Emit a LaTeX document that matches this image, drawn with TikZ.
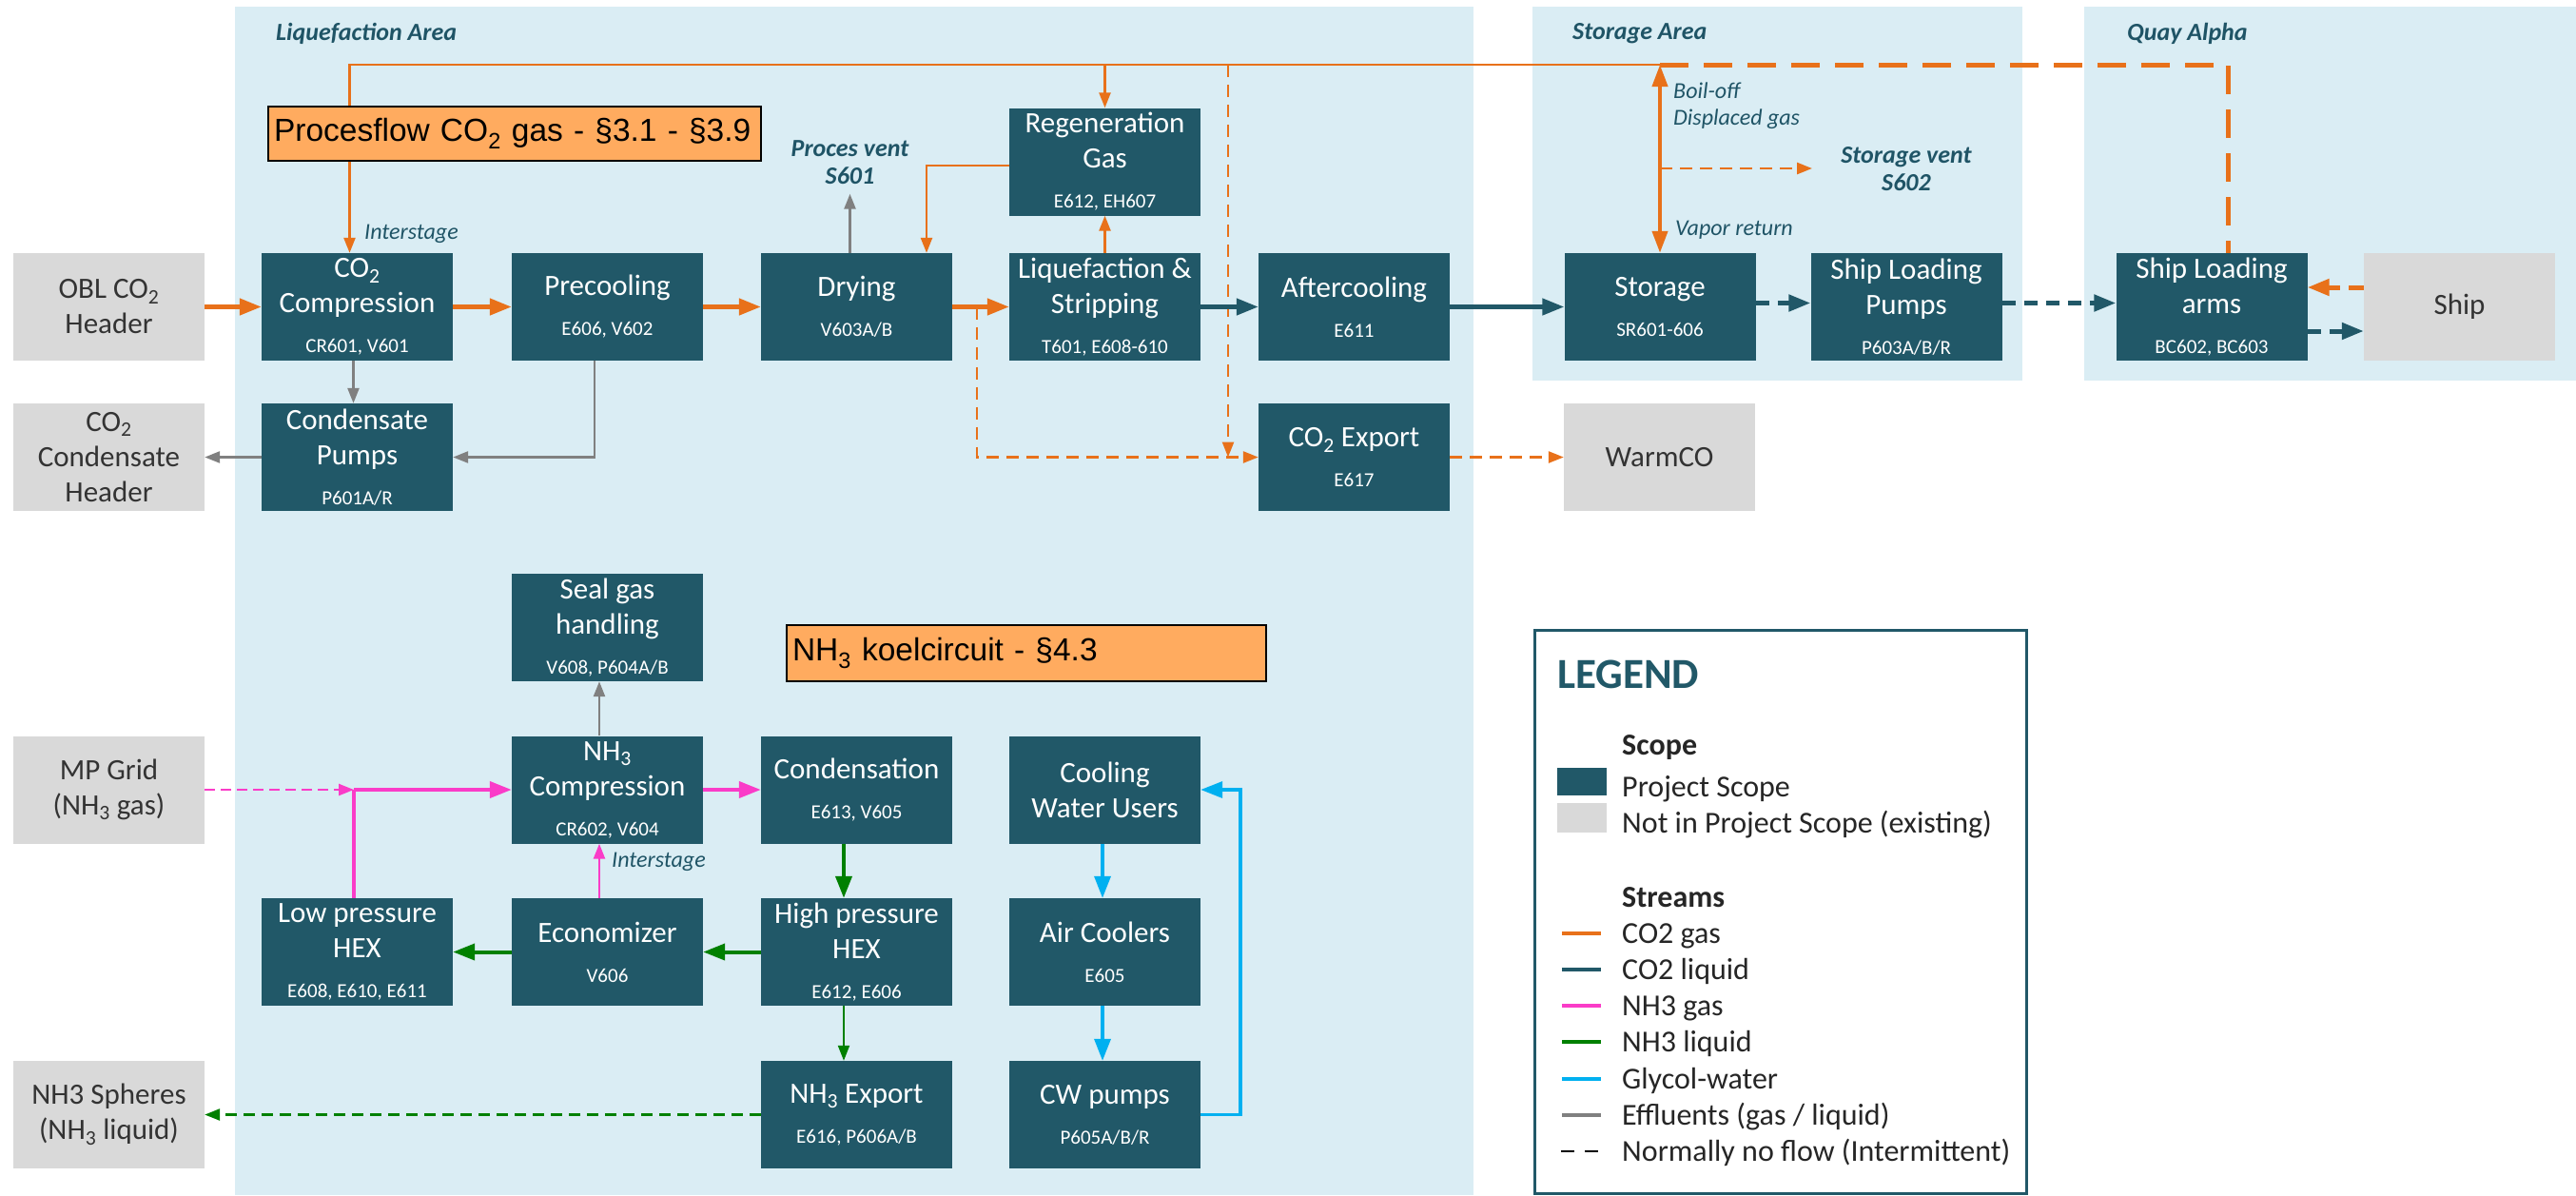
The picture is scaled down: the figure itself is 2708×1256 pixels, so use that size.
\documentclass[tikz,border=0pt]{standalone}
\usepackage{fontspec}
\setmainfont{Carlito}
\newfontfamily\arialfam{Liberation Sans}
\usetikzlibrary{arrows.meta}

% palette
\definecolor{projTeal}{HTML}{215868}
\definecolor{areaBlue}{HTML}{DAEDF4}
\definecolor{extGrey}{HTML}{D9D9D9}
\definecolor{extText}{HTML}{333333}
\definecolor{gasOrange}{HTML}{E8711A}
\definecolor{noteOrange}{HTML}{FFAB5F}
\definecolor{nhPink}{HTML}{FA3CC8}
\definecolor{nhGreen}{HTML}{008000}
\definecolor{glyCyan}{HTML}{00B0F0}
\definecolor{effGrey}{HTML}{808080}
\definecolor{labTeal}{HTML}{1F5466}
\definecolor{legText}{HTML}{262626}

% type sizes
\newcommand\fTitle{\fontsize{31}{37}\selectfont}
\newcommand\fTag{\fontsize{21}{25}\selectfont}
\newcommand\fNote{\fontsize{24}{28}\selectfont\itshape}
\newcommand\fArea{\fontsize{26}{29}\selectfont\bfseries\itshape}
\newcommand\fHead{\arialfam\fontsize{33.5}{40}\selectfont}
\newcommand\fLeg{\fontsize{32}{38}\selectfont}

\tikzset{
  unit/.style={fill=projTeal, text=white, minimum width=201pt, minimum height=113pt,
    inner sep=0pt, align=center, font=\fTitle},
  exist/.style={unit, fill=extGrey, text=extText},
  notebox/.style={draw=black, line width=2pt, fill=noteOrange, minimum height=57pt,
    inner xsep=6pt, inner ysep=0pt, align=left, font=\fHead},
  area/.style={anchor=west, inner sep=0pt, text=labTeal, font=\fArea},
  remark/.style={anchor=west, inner sep=0pt, text=labTeal, font=\fNote},
  legtxt/.style={anchor=base west, inner sep=0pt, text=legText, font=\fLeg},
  tipL/.style={-{Triangle[length=23pt,width=17pt]}},
  tipS/.style={-{Triangle[length=16pt,width=12pt]}},
  co2gas/.style={draw=gasOrange, line width=4.5pt},
  co2thin/.style={draw=gasOrange, line width=2.5pt},
  co2dash/.style={co2thin, dash pattern=on 13pt off 8pt},
  co2bigdash/.style={draw=gasOrange, line width=5pt, dash pattern=on 30pt off 16pt},
  co2shipdash/.style={draw=gasOrange, line width=5pt, dash pattern=on 16pt off 9pt},
  co2liq/.style={draw=projTeal, line width=4.5pt},
  co2liqdash/.style={draw=projTeal, line width=5pt, dash pattern=on 14pt off 9pt},
  nhgas/.style={draw=nhPink, line width=4pt},
  nhgasthin/.style={draw=nhPink, line width=2.5pt},
  nhgasdash/.style={nhgasthin, dash pattern=on 11pt off 6pt},
  nhliq/.style={draw=nhGreen, line width=4pt},
  nhliqthin/.style={draw=nhGreen, line width=2pt},
  nhliqdash/.style={draw=nhGreen, line width=2.5pt, dash pattern=on 12pt off 7pt},
  glycol/.style={draw=glyCyan, line width=3.5pt},
  effl/.style={draw=effGrey, line width=2.5pt},
}

\begin{document}
\begin{tikzpicture}[x=1pt,y=-1pt]
\useasboundingbox (0,0) rectangle (2708,1256);
\fill[white] (0,0) rectangle (2708,1256);

% plant areas
\fill[areaBlue] (247,7) rectangle (1549,1256);
\fill[areaBlue] (1611,7) rectangle (2126,400);
\fill[areaBlue] (2191,7) rectangle (2708,400);
\node[area] (laLab) at (290,35) {Liquefaction Area};
\node[area] (saLab) at (1653,35) {Storage Area};
\node[area] (qaLab) at (2236,35) {Quay Alpha};

% CO2 train
\node[exist] (obl) at (114.5,322.5) {OBL CO\textsubscript{2}\\Header};
\node[unit] (co2c) at (375.5,322.5) {CO\textsubscript{2}\\Compression\\[5pt]\fTag CR601, V601};
\node[unit] (prec) at (638.5,322.5) {Precooling\\[5pt]\fTag E606, V602};
\node[unit] (dry) at (900.5,322.5) {Drying\\[5pt]\fTag V603A/B};
\node[unit] (liq) at (1161.5,322.5) {Liquefaction \&\\Stripping\\[5pt]\fTag T601, E608-610};
\node[unit] (aft) at (1423.5,322.5) {Aftercooling\\[5pt]\fTag E611};
\node[unit] (regen) at (1161.5,170) {Regeneration\\Gas\\[5pt]\fTag E612, EH607};
\node[unit] (sto) at (1745,322.5) {Storage\\[5pt]\fTag SR601-606};
\node[unit] (slp) at (2004,322.5) {Ship Loading\\Pumps\\[5pt]\fTag P603A/B/R};
\node[unit] (sla) at (2325,322.5) {Ship Loading\\arms\\[5pt]\fTag BC602, BC603};
\node[exist] (ship) at (2585.5,322.5) {Ship};
\node[exist] (cch) at (114.5,480.5) {CO\textsubscript{2}\\Condensate\\Header};
\node[unit] (cp) at (375.5,480.5) {Condensate\\Pumps\\[5pt]\fTag P601A/R};
\node[unit] (exp) at (1423.5,480.5) {CO\textsubscript{2} Export\\[5pt]\fTag E617};
\node[exist] (warm) at (1744.5,480.5) {WarmCO};

% NH3 refrigeration and cooling water
\node[unit] (seal) at (638.5,659.5) {Seal gas\\handling\\[5pt]\fTag V608, P604A/B};
\node[unit] (nh3c) at (638.5,830) {NH\textsubscript{3}\\Compression\\[5pt]\fTag CR602, V604};
\node[unit] (cond) at (900.5,830) {Condensation\\[5pt]\fTag E613, V605};
\node[unit] (cwu) at (1161.5,830) {Cooling\\Water Users};
\node[exist] (mp) at (114.5,830) {MP Grid\\(NH\textsubscript{3} gas)};
\node[unit] (lp) at (375.5,1000.5) {Low pressure\\HEX\\[5pt]\fTag E608, E610, E611};
\node[unit] (eco) at (638.5,1000.5) {Economizer\\[5pt]\fTag V606};
\node[unit] (hp) at (900.5,1000.5) {High pressure\\HEX\\[5pt]\fTag E612, E606};
\node[unit] (ac) at (1161.5,1000.5) {Air Coolers\\[5pt]\fTag E605};
\node[exist] (nh3s) at (114.5,1171.5) {NH3 Spheres\\(NH\textsubscript{3} liquid)};
\node[unit] (nexp) at (900.5,1171.5) {NH\textsubscript{3} Export\\[5pt]\fTag E616, P606A/B};
\node[unit] (cwp) at (1161.5,1171.5) {CW pumps\\[5pt]\fTag P605A/B/R};

% small labels
\node[area, anchor=center, align=center] (pvent) at (893.5,170.5) {Proces vent\\S601};
\node[area, anchor=center, align=center] (svent) at (2004,178) {Storage vent\\S602};
\node[remark] (istA) at (383,246) {Interstage};
\node[remark] (istB) at (643,906) {Interstage};
\node[remark, align=left] (boilLab) at (1759,111) {Boil-off\\Displaced gas};
\node[remark] (vapLab) at (1761,242) {Vapor return};

% junction points
\coordinate (boil) at (1745,68);
\coordinate (bypass) at (1291,68);
\coordinate (tap) at (1027,322.5);
\coordinate (ventTap) at (1745,177);
\coordinate (ventEnd) at (1905,177);
\coordinate (mj) at (372,830);

% CO2 gas
\draw[co2gas, tipL] (obl) -- (co2c);
\draw[co2gas, tipL] (co2c) -- (prec);
\draw[co2gas, tipL] (prec) -- (dry);
\draw[co2gas, tipL] (dry) -- (liq);
\draw[co2thin, tipS] (boil) -| ([xshift=-8pt]co2c.north);
\draw[co2thin, tipS] (regen.north |- boil) -- (regen.north);
\draw[co2thin, tipS] (liq.north) -- (regen.south);
\draw[co2thin, tipS] ([yshift=-4pt]regen.west) -| ([xshift=73.5pt]dry.north);
\draw[co2dash, tipS] (bypass) -- (bypass |- exp.west);
\draw[co2dash, tipS] (tap) |- (exp.west);
\draw[co2dash, tipS] (exp) -- (warm);
\draw[draw=gasOrange, line width=4pt,
  {Triangle[length=23pt,width=16pt]}-{Triangle[length=23pt,width=16pt]}] (sto.north) -- (boil);
\draw[co2dash, tipS] (ventTap) -- (ventEnd);
\draw[co2bigdash] (boil) -| ([xshift=17pt]sla.north);
\draw[co2shipdash, tipL] ([yshift=20.5pt]ship.west) -- ([yshift=20.5pt]sla.east);

% CO2 liquid
\draw[co2liq, tipL] (liq) -- (aft);
\draw[co2liq, tipL] (aft) -- (sto);
\draw[co2liqdash, tipL] ([yshift=4pt]sto.east) -- ([yshift=4pt]slp.west);
\draw[co2liqdash, tipL] ([yshift=4pt]slp.east) -- ([yshift=4pt]sla.west);
\draw[co2liqdash, tipL] ([yshift=-25.5pt]sla.east) -- ([yshift=-25.5pt]ship.west);

% effluents
\draw[effl, tipS] ([xshift=-4pt]co2c.south) -- ([xshift=-4pt]cp.north);
\draw[effl, tipS] ([xshift=-13.5pt]prec.south) |- (cp.east);
\draw[effl, tipS] (cp.west) -- (cch.east);
\draw[effl, tipS] ([xshift=-7pt]dry.north) -- ([yshift=-10pt]pvent.south);
\draw[effl, tipS] ([xshift=-8.5pt]nh3c.north) -- ([xshift=-8.5pt]seal.south);

% NH3 gas
\draw[nhgasdash, tipS] (mp.east |- mj) -- (mj);
\draw[nhgas, tipL] (mj) -- (nh3c.west |- mj);
\draw[nhgas] ([xshift=-3.5pt]lp.north) -- (mj);
\draw[nhgas, tipL] (nh3c) -- (cond);
\draw[nhgasthin, tipS] ([xshift=-8.5pt]eco.north) -- ([xshift=-8.5pt]nh3c.south);

% NH3 liquid
\draw[nhliq, tipL] ([xshift=-13.5pt]cond.south) -- ([xshift=-13.5pt]hp.north);
\draw[nhliq, tipL] (hp) -- (eco);
\draw[nhliq, tipL] (eco) -- (lp);
\draw[nhliqthin, tipS] ([xshift=-13.5pt]hp.south) -- ([xshift=-13.5pt]nexp.north);
\draw[nhliqdash, tipS] (nexp) -- (nh3s);

% glycol-water loop
\draw[glycol, tipL] ([xshift=-2.5pt]cwu.south) -- ([xshift=-2.5pt]ac.north);
\draw[glycol, tipL] ([xshift=-2.5pt]ac.south) -- ([xshift=-2.5pt]cwp.north);
\draw[glycol, tipL] (cwp.east) -- ++(42,0) |- (cwu.east);

% section notes
\node[notebox, text width=506pt] (procNote) at (541,140.5)
  {Procesflow CO\textsubscript{2} gas - §3.1 - §3.9};
\node[notebox, text width=492pt, minimum height=59pt] (nhNote) at (1079,686.5)
  {NH\textsubscript{3} koelcircuit - §4.3};

% legend
\draw[projTeal, line width=3pt] (1613,662) rectangle (2130,1254);
\node[anchor=west, inner sep=0pt, text=projTeal, font=\fontsize{45}{50}\selectfont\bfseries]
  (legTitle) at (1637,709) {LEGEND};
\node[legtxt, font=\fLeg\bfseries] (legScope) at (1705,793) {Scope};
\fill[projTeal] (1637,807) rectangle (1689,836);
\node[legtxt] (legProj) at (1705,837) {Project Scope};
\fill[extGrey] (1637,844) rectangle (1689,875);
\node[legtxt] (legExt) at (1705,875) {Not in Project Scope (existing)};
\node[legtxt, font=\fLeg\bfseries] (legStreams) at (1705,953) {Streams};
\draw[draw=gasOrange, line width=3.5pt] (1642,981) -- (1683,981);
\node[legtxt] (lgA) at (1705,991) {CO2 gas};
\draw[draw=projTeal, line width=4pt] (1642,1019) -- (1683,1019);
\node[legtxt] (lgB) at (1705,1029) {CO2 liquid};
\draw[draw=nhPink, line width=4pt] (1642,1057) -- (1683,1057);
\node[legtxt] (lgC) at (1705,1067) {NH3 gas};
\draw[draw=nhGreen, line width=4pt] (1642,1095) -- (1683,1095);
\node[legtxt] (lgD) at (1705,1105) {NH3 liquid};
\draw[draw=glyCyan, line width=4pt] (1642,1134) -- (1683,1134);
\node[legtxt] (lgE) at (1705,1144) {Glycol-water};
\draw[draw=effGrey, line width=4pt] (1642,1172) -- (1683,1172);
\node[legtxt] (lgF) at (1705,1182) {Effluents (gas / liquid)};
\draw[draw=black, line width=2pt, dash pattern=on 14pt off 11pt] (1641,1210) -- (1680,1210);
\node[legtxt] (lgG) at (1705,1220) {Normally no flow (Intermittent)};
\end{tikzpicture}
\end{document}
